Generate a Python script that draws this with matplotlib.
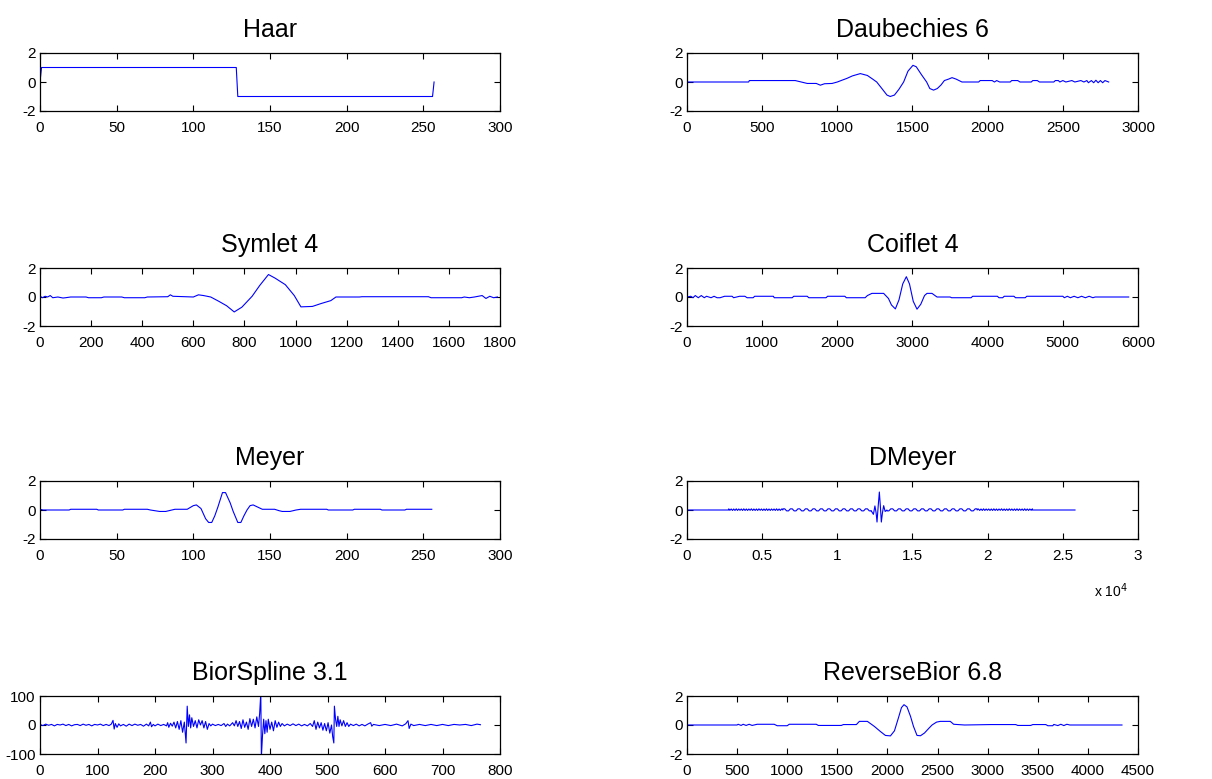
import numpy as np
import matplotlib.pyplot as plt

plt.rcParams['font.family'] = ['Liberation Sans', 'DejaVu Sans']
plt.rcParams['axes.unicode_minus'] = False

# --- wavelet traces (sample index vs. amplitude) ---
haar_x = [0, 1, 128, 129, 256, 257]
haar_y = [0, 1, 1, -1, -1, 0]

db6_x = [0, 410, 415, 720, 800, 860, 887, 915, 965, 1000, 1030, 1064, 1100, 1153,
         1200, 1235, 1262, 1300, 1330, 1352, 1380, 1410, 1441, 1470, 1503, 1525,
         1560, 1594, 1615, 1640, 1665, 1690, 1712, 1740, 1763, 1790, 1829, 1940,
         1950, 2030, 2045, 2060, 2080, 2150, 2160, 2200, 2215, 2290, 2300, 2330,
         2345, 2440, 2450, 2470, 2480, 2500, 2520, 2560, 2580, 2620, 2640, 2660,
         2670, 2690, 2705, 2720, 2735, 2750, 2765, 2780, 2805]
db6_y = [0, 0, 0.1, 0.1, -0.1, -0.1, -0.22, -0.12, -0.1, 0, 0.12, 0.25, 0.42, 0.58,
         0.45, 0.2, 0, -0.5, -0.9, -1.0, -0.9, -0.5, 0, 0.75, 1.15, 1.05,
         0.5, 0, -0.45, -0.56, -0.45, -0.2, 0.1, 0.2, 0.3, 0.2, 0.0, 0,
         0.1, 0.1, 0, 0.1, 0, 0, 0.1, 0.1, 0, 0, 0.1, 0.1,
         0, 0, 0.1, 0.1, 0, 0.1, 0, 0.1, 0, 0.1, 0, 0.1,
         -0.05, 0.1, -0.05, 0.12, -0.05, 0.1, -0.05, 0.1, 0.0]

sym4_x = [0, 10, 20, 30, 40, 50, 70, 90, 100, 120, 180, 190, 240, 250, 320, 330,
          410, 420, 500, 510, 520, 600, 620, 640, 668, 700, 730, 760, 790, 830,
          860, 894, 920, 960, 995, 1021, 1066, 1100, 1138, 1158, 1250, 1260, 1520,
          1530, 1650, 1660, 1680, 1700, 1730, 1745, 1760, 1775, 1790]
sym4_y = [0.05, -0.05, 0.05, 0.0, 0.1, -0.05, 0, -0.07, -0.05, 0, 0.0, -0.05, -0.05, 0, 0, -0.05,
          -0.05, 0, 0.02, 0.15, 0.05, 0.0, 0.15, 0.1, 0, -0.3, -0.6, -1.03, -0.7, 0.05,
          0.8, 1.55, 1.3, 0.85, 0.1, -0.68, -0.65, -0.45, -0.25, 0.0, 0, 0.02, 0.02,
          -0.05, -0.05, 0.0, -0.05, 0, 0.1, -0.1, 0.05, -0.05, 0]

coif4_x = [0, 50, 80, 110, 150, 190, 230, 260, 320, 360, 400, 440, 500, 600, 620, 700,
           770, 800, 880, 900, 1150, 1160, 1400, 1420, 1600, 1620, 1850, 1870, 2100,
           2120, 2370, 2400, 2460, 2616, 2680, 2720, 2772, 2820, 2870, 2918, 2960,
           3010, 3060, 3110, 3160, 3193, 3259, 3326, 3500, 3520, 3780, 3800, 4130,
           4150, 4200, 4220, 4350, 4370, 4500, 4520, 5000, 5020, 5060, 5100, 5150,
           5200, 5250, 5300, 5350, 5400, 5430, 5876]
coif4_y = [0, 0.05, -0.05, 0.1, -0.05, 0.1, -0.05, 0.05, -0.05, 0.05, -0.05, -0.05, 0.05, 0.05, -0.05, 0.05,
           0.05, -0.05, -0.05, 0.05, 0.05, -0.05, -0.05, 0.05, 0.05, -0.05, -0.05, 0.05, 0.05,
           -0.05, -0.05, 0.1, 0.25, 0.25, -0.1, -0.55, -0.82, -0.2, 0.9, 1.4, 0.9,
           -0.3, -0.84, -0.5, 0.1, 0.25, 0.25, 0.0, 0, -0.05, -0.05, 0.05, 0.05,
           -0.05, -0.05, 0.05, 0.05, -0.05, -0.05, 0.05, 0.05, -0.05, 0.05, -0.05, 0.05,
           -0.05, 0.05, -0.05, 0.05, -0.05, 0, 0]

meyer_x = [0, 2, 19, 20, 37, 38, 54, 55, 70, 72, 78, 82, 86, 88, 96, 100, 102, 105, 108,
           110, 112, 114, 116, 119, 121, 124, 126, 129, 131, 133, 135, 137, 139, 142,
           145, 153, 156, 158, 163, 167, 170, 187, 188, 204, 205, 222, 223, 238, 239, 255.5]
meyer_y = [0.05, 0, 0, 0.05, 0.05, 0, 0, 0.05, 0.05, 0, -0.1, -0.1, 0.0, 0.05, 0.05, 0.3, 0.35, 0.1, -0.6,
           -0.86, -0.86, -0.4, 0.2, 1.2, 1.2, 0.5, -0.1, -0.86, -0.86, -0.4, 0.0, 0.3, 0.35, 0.2,
           0.05, 0.05, -0.05, -0.1, -0.1, 0, 0.05, 0.05, 0, 0, 0.05, 0.05, 0, 0, 0.05, 0.05]

# dmey: fine ripple, slower ripple, central burst, then the mirror image
dmey_fine = [0.08, -0.02, 0.07, -0.03, 0.07, -0.03, 0.08, -0.03, 0.07, -0.02, 0.07,
             -0.03, 0.08, -0.03, 0.07, -0.03, 0.07, -0.02, 0.08, -0.03, 0.07, -0.03,
             0.07, -0.03, 0.08, -0.02, 0.07, -0.03, 0.07, -0.03, 0.08, -0.03, 0.07,
             -0.03, 0.07, -0.02, 0.07, -0.03, 0.08, -0.03, 0.07, -0.03, 0.07, 0.0]
dmey_slow = [0.08, 0.08, -0.06, -0.06, 0.08, 0.08, -0.06, -0.06, 0.08, 0.08, -0.06,
             -0.06, 0.08, 0.08, -0.06, -0.06, 0.08, 0.08, -0.06, -0.06, 0.08, 0.08,
             -0.06, -0.06, 0.08, 0.08, -0.06, -0.06, 0.08, 0.08, -0.06, -0.06, 0.08,
             0.08, -0.06, -0.06, 0.08, 0.08, -0.06, -0.06, 0.08, 0.08, -0.06, -0.06,
             0.08, 0.08, -0.06, -0.06]
dmey_burst_x = [12250, 12400, 12500, 12580, 12640, 12720, 12795, 12860, 12927, 13000,
                13082, 13180, 13300]
dmey_burst_y = [-0.05, -0.3, 0.28, -0.2, -0.83, 0.3, 1.24, 0.3, -0.83, -0.2, 0.3, -0.1, 0.0]
dmey_start, dmey_fine_end, dmey_slow_end = 2773, 6377, 12250
dmey_right_slow_end, dmey_right_fine_end, dmey_end = 19300, 22976, 25810

bior_x = [0, 5, 10, 15, 20, 25, 30, 35, 40, 45, 50, 55, 60, 65, 70, 75, 80, 85, 90, 95,
          100, 105, 110, 115, 120, 124, 127, 129, 131, 134, 137, 140, 145, 150, 155,
          160, 165, 170, 175, 180, 185, 189, 192, 194, 197, 200, 205, 210, 215, 220,
          222, 224, 227, 230, 233, 236, 239, 242, 245, 248, 251, 254, 256, 258, 260,
          262, 264, 267, 270, 273, 276, 279, 282, 285, 288, 291, 294, 297, 300, 305,
          310, 315, 320, 323, 326, 330, 335, 338, 341, 344, 347, 350, 353, 356, 359,
          362, 365, 368, 371, 374, 377, 380, 382, 384, 385, 387, 389, 391, 393, 395,
          397, 400, 403, 406, 409, 412, 415, 418, 421, 425, 430, 435, 440, 445, 450,
          455, 460, 465, 470, 474, 477, 480, 483, 486, 489, 492, 495, 498, 501, 504,
          507, 509, 511, 512, 514, 516, 518, 520, 522, 525, 528, 531, 534, 537, 540,
          545, 550, 555, 560, 565, 570, 575, 577, 580, 590, 600, 610, 620, 630, 636,
          640, 642, 645, 650, 660, 670, 680, 690, 700, 710, 720, 730, 740, 750, 760, 766]
bior_y = [2, -2, 3, -1, 2, -3, 2, 0, 3, -2, 2, -3, 1, 2, -2, 3, -1, 2, -3, 2,
          0, 3, -2, 2, -2, 3, 16, -14, 5, -8, 4, -3, 2, -4, 3,
          -2, 3, -1, 2, -4, 3, -3, 10, -6, 2, -3, 3, -2, 2, -3,
          8, -8, 6, -4, 10, -10, 12, -15, 15, -25, 10, -62, 65, -5, 35,
          -10, 25, -5, 15, -10, 18, 0, 15, -10, 12, -15, 5, -3, 3, -2,
          2, -2, 5, -5, 3, -3, 8, -3, 15, -5, 12, -12, 18, -8, 10,
          -15, 22, -5, 20, -10, 28, -5, 40, 110, -110, -35, 20, -30, 15, -25,
          20, -15, 10, -20, 15, -8, 10, -5, 5, -3, 3, -2, 4, -2, 3,
          -3, 2, -3, 5, -5, 15, -15, 10, -10, 8, -18, 5, -20, 8, -28,
          0, -40, -62, 65, 20, -5, 30, -5, 18, -3, 15, -5, 8, -5, 3,
          -2, 3, -3, 2, -3, 3, 8, -4, 2, -2, 2, -2, 3, -3, 4,
          15, -12, 3, -2, 2, -2, 2, -2, 2, -2, 2, 0, 2, -2, 3, 1]

rbio_x = [0, 500, 510, 540, 560, 590, 620, 650, 700, 870, 900, 1000, 1020, 1290, 1310,
          1540, 1560, 1690, 1720, 1800, 1830, 1870, 1930, 1980, 2030, 2070, 2110, 2140,
          2165, 2195, 2230, 2260, 2295, 2330, 2370, 2410, 2445, 2490, 2527, 2627, 2661,
          2770, 3030, 3280, 3300, 3430, 3450, 3580, 3600, 3650, 3660, 3700, 3730, 3760,
          3790, 3820, 4340]
rbio_y = [0, 0, 0.05, -0.03, 0.05, -0.03, 0.05, -0.03, 0.05, 0.05, -0.05, -0.05, 0.05, 0.05, -0.03,
          -0.03, 0.03, 0.03, 0.25, 0.25, 0.1, -0.1, -0.45, -0.72, -0.75, -0.4, 0.5, 1.2,
          1.4, 1.25, 0.6, -0.1, -0.72, -0.74, -0.55, -0.25, 0, 0.2, 0.25, 0.25, 0.05,
          0.0, 0.03, 0.03, -0.03, -0.03, 0.03, 0.03, -0.05, -0.05, 0.04, -0.04, 0.05, -0.04,
          0.05, 0, 0]

# assemble the dmey trace
dmey_x = np.concatenate([
    [0, dmey_start],
    np.linspace(dmey_start, dmey_fine_end, len(dmey_fine)),
    np.linspace(dmey_fine_end, dmey_slow_end, len(dmey_slow)),
    dmey_burst_x,
    np.linspace(13300, dmey_right_slow_end, len(dmey_slow)),
    np.linspace(dmey_right_slow_end, dmey_right_fine_end, len(dmey_fine)),
    [dmey_right_fine_end, dmey_end],
])
dmey_y = np.concatenate([
    [0, 0], dmey_fine, dmey_slow, dmey_burst_y,
    dmey_slow[::-1], dmey_fine[::-1], [0, 0],
])

panels = [
    ('Haar', haar_x, haar_y, 300, 50),
    ('Daubechies 6', db6_x, db6_y, 3000, 500),
    ('Symlet 4', sym4_x, sym4_y, 1800, 200),
    ('Coiflet 4', coif4_x, coif4_y, 6000, 1000),
    ('Meyer', meyer_x, meyer_y, 300, 50),
    ('DMeyer', dmey_x, dmey_y, 30000, 5000),
    ('BiorSpline 3.1', bior_x, bior_y, 800, 100),
    ('ReverseBior 6.8', rbio_x, rbio_y, 4500, 500),
]

fig = plt.figure(figsize=(12.12, 7.79), dpi=100)

col_left = [40 / 1212, 687 / 1212]
col_width = [460 / 1212, 451 / 1212]
row_bottom = [1 - 111 / 779, 1 - 326 / 779, 1 - 539 / 779, 1 - 754 / 779]
row_height = 58 / 779

for i, (title, x, y, xmax, xstep) in enumerate(panels):
    r, c = divmod(i, 2)
    ax = fig.add_axes([col_left[c], row_bottom[r], col_width[c], row_height])
    ax.plot(x, y, color='#0000ff', lw=0.8)
    ax.set_xlim(0, xmax)
    ax.set_xticks(np.arange(0, xmax + 1, xstep))
    if title == 'BiorSpline 3.1':
        ax.set_ylim(-100, 100)
        ax.set_yticks([-100, 0, 100])
    else:
        ax.set_ylim(-2, 2)
        ax.set_yticks([-2, 0, 2])
    if title == 'DMeyer':
        ax.set_xticklabels(['0', '0.5', '1', '1.5', '2', '2.5', '3'])
    ax.set_title(title, fontsize=18, pad=11.5)
    ax.tick_params(direction='in', top=True, right=True, length=4, width=0.8,
                   labelsize=11)
    ax.tick_params(axis='x', pad=7.5)
    ax.tick_params(axis='y', pad=3)
    for s in ax.spines.values():
        s.set_linewidth(0.9)

fig.text(1128 / 1212, 1 - 597 / 779, r'x 10$^{4}$', ha='right', va='baseline', fontsize=10)

fig.savefig('out.png', dpi=100)
